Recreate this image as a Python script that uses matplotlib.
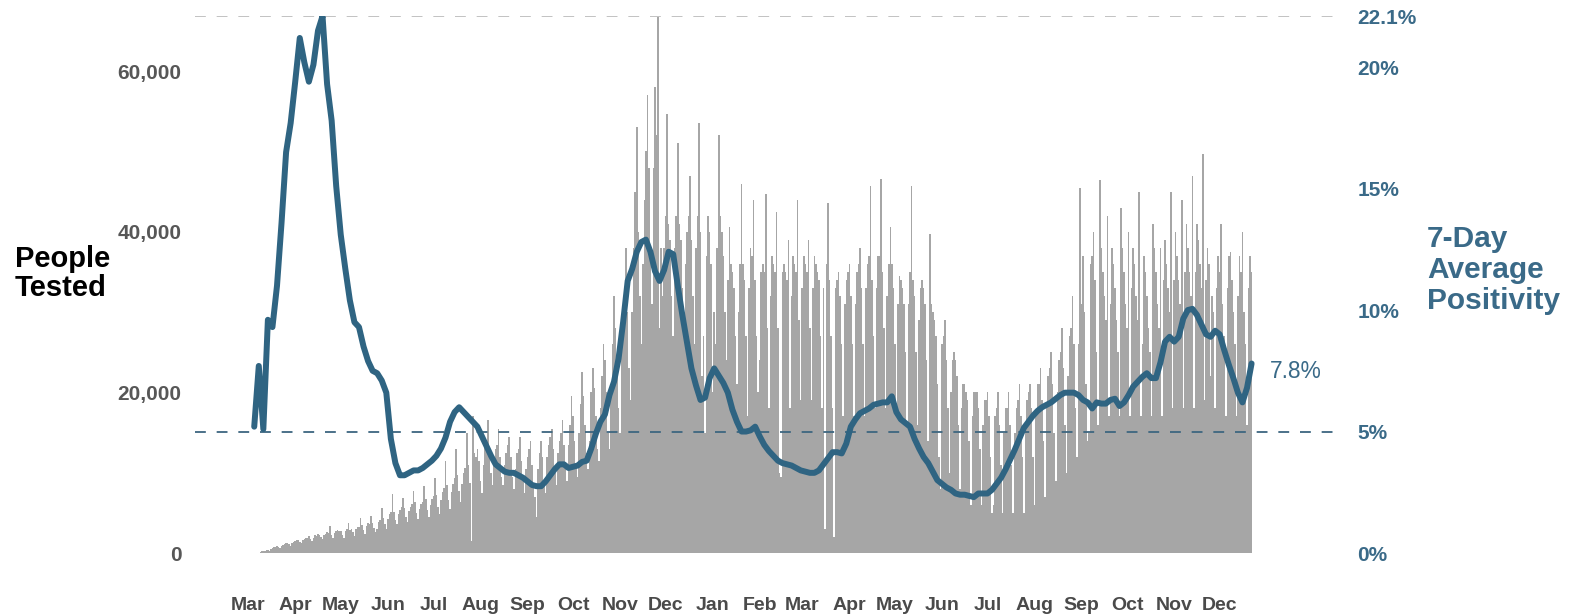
import pandas as pd
import matplotlib
matplotlib.use('Agg')
import matplotlib.pyplot as plt
import matplotlib.dates as mdates
from matplotlib.ticker import FuncFormatter

plt.rcParams['font.family'] = ['Liberation Sans', 'DejaVu Sans']

# --- data ---
# people tested per day, in thousands, one row per week (Mon..Sun), from 2020-03-09
tested_start = '2020-03-09'
tested_k = [
    0.1, 0.2, 0.3, 0.3, 0.4, 0.4, 0.3,
    0.5, 0.6, 0.7, 0.8, 0.9, 0.8, 0.6,
    0.9, 1.0, 1.1, 1.2, 1.3, 1.1, 0.9,
    1.3, 1.4, 1.5, 1.6, 1.6, 1.4, 1.2,
    1.6, 1.8, 1.9, 1.9, 2.1, 1.8, 1.5,
    1.9, 2.2, 2.1, 2.4, 2.3, 2.0, 1.7,
    2.2, 2.4, 2.6, 2.5, 3.4, 2.3, 1.9,
    2.5, 2.7, 2.9, 2.8, 2.7, 2.3, 1.9,
    2.7, 3.0, 3.7, 2.9, 3.0, 2.6, 2.1,
    3.0, 3.3, 3.3, 4.3, 3.5, 2.9, 2.4,
    3.4, 3.7, 3.6, 4.6, 3.7, 3.1, 2.6,
    3.0, 3.9, 4.1, 5.6, 4.3, 3.6, 3.0,
    4.2, 4.9, 5.1, 7.4, 5.1, 4.1, 3.6,
    4.8, 5.4, 5.7, 6.9, 5.6, 4.5, 3.9,
    5.2, 5.7, 6.1, 7.7, 6.4, 5.0, 4.2,
    5.5, 6.1, 6.4, 8.4, 6.7, 5.3, 4.5,
    6.0, 6.7, 7.1, 9.3, 7.2, 5.7, 4.8,
    6.6, 7.6, 8.1, 11.5, 8.5, 6.6, 5.5,
    7.6, 8.6, 9.3, 13.0, 9.7, 7.7, 6.3,
    8.6, 9.9, 10.6, 15.0, 11.0, 8.7, 1.5,
    17.0, 12.5, 12.0, 13.0, 11.5, 9.0, 7.5,
    11.0, 13.5, 14.0, 16.5, 12.5, 10.0, 8.5,
    11.5, 13.0, 13.5, 15.5, 12.0, 9.5, 8.5,
    11.0, 12.5, 13.5, 14.5, 12.0, 9.5, 8.0,
    10.5, 12.5, 13.0, 14.5, 11.5, 9.0, 7.5,
    10.5, 12.0, 13.0, 14.0, 11.0, 8.5, 7.0,
    4.5, 10.5, 12.5, 14.0, 12.0, 9.0, 7.5,
    12.0, 13.5, 14.5, 15.5, 13.0, 10.0, 8.5,
    12.5, 14.0, 15.0, 16.5, 13.5, 10.5, 9.0,
    13.5, 16.0, 19.5, 17.0, 14.0, 11.0, 9.5,
    15.0, 18.5, 22.5, 19.5, 16.0, 12.5, 10.5,
    14.0, 20.0, 23.0, 20.5, 17.0, 13.0, 11.5,
    18.0, 22.0, 26.0, 24.0, 20.0, 15.0, 13.0,
    21.0, 26.0, 32.0, 28.0, 24.0, 18.0, 15.0,
    25.0, 30.0, 33.0, 38.0, 30.0, 23.0, 19.0,
    30.0, 38.0, 45.0, 53.0, 40.0, 32.0, 26.0,
    36.0, 44.0, 50.0, 57.0, 48.0, 38.0, 31.0,
    48.0, 58.0, 52.0, 66.8, 28.0, 38.0, 32.0,
    38.0, 42.0, 54.6, 41.0, 39.0, 32.0, 27.0,
    38.0, 42.0, 51.0, 41.0, 39.0, 33.0, 27.0,
    36.0, 40.0, 42.0, 47.0, 39.0, 32.0, 26.0,
    38.0, 42.0, 53.6, 40.0, 22.0, 27.0, 15.0,
    37.0, 42.0, 40.0, 36.0, 20.0, 30.0, 26.0,
    38.0, 52.0, 42.0, 40.0, 37.0, 30.0, 24.0,
    34.0, 40.6, 36.0, 35.0, 33.0, 27.0, 21.0,
    30.0, 36.0, 46.0, 36.0, 34.0, 27.0, 17.0,
    33.0, 38.0, 37.0, 44.0, 34.0, 27.0, 20.0,
    24.0, 35.0, 36.0, 35.0, 44.7, 28.0, 18.0,
    32.0, 37.0, 36.0, 35.0, 42.5, 28.0, 10.0,
    9.5, 35.0, 36.0, 35.0, 34.0, 39.0, 18.0,
    32.0, 37.0, 36.0, 35.0, 44.0, 29.0, 19.0,
    33.0, 37.0, 36.0, 35.0, 39.0, 28.0, 19.0,
    33.0, 37.0, 36.0, 35.0, 34.0, 27.0, 18.0,
    33.0, 3.0, 36.0, 43.6, 34.0, 27.0, 18.0,
    2.0, 33.0, 34.0, 35.0, 32.0, 26.0, 17.0,
    31.0, 34.0, 35.0, 36.0, 32.0, 26.0, 17.0,
    31.0, 35.0, 36.0, 38.0, 33.0, 26.0, 17.0,
    33.0, 36.0, 37.0, 45.7, 34.0, 27.0, 18.0,
    33.0, 37.0, 37.0, 46.6, 35.0, 28.0, 18.0,
    32.0, 36.0, 40.6, 36.0, 33.0, 26.0, 17.0,
    31.0, 34.5, 34.0, 33.0, 31.0, 25.0, 16.0,
    31.0, 35.0, 45.7, 34.0, 32.0, 25.0, 16.0,
    29.0, 33.0, 34.0, 33.0, 31.0, 24.0, 14.0,
    39.7, 31.0, 30.0, 29.0, 27.0, 21.0, 12.0,
    8.0, 26.0, 27.0, 29.0, 24.0, 18.0, 10.0,
    20.0, 24.0, 25.0, 24.0, 22.0, 16.0, 8.0,
    18.0, 21.0, 21.0, 20.0, 19.0, 14.0, 6.0,
    17.0, 20.0, 20.0, 20.0, 18.0, 13.0, 6.0,
    16.0, 19.0, 19.0, 20.0, 17.0, 12.0, 5.0,
    6.0, 17.0, 18.0, 20.0, 16.0, 11.0, 5.0,
    15.0, 18.0, 18.0, 20.0, 16.0, 11.0, 5.0,
    15.0, 18.0, 19.0, 21.0, 17.0, 12.0, 5.0,
    16.0, 19.0, 20.0, 21.0, 18.0, 12.0, 6.0,
    17.0, 21.0, 21.0, 23.0, 19.0, 14.0, 7.0,
    18.0, 22.0, 23.0, 25.0, 21.0, 15.0, 9.0,
    20.0, 24.0, 25.0, 28.0, 23.0, 16.0, 10.0,
    22.0, 27.0, 28.0, 32.0, 26.0, 18.0, 12.0,
    26.0, 45.5, 31.0, 37.0, 30.0, 21.0, 14.0,
    15.0, 36.0, 37.0, 40.0, 34.0, 25.0, 16.0,
    46.5, 38.0, 35.0, 32.0, 29.0, 42.0, 17.0,
    31.0, 38.0, 36.0, 33.0, 29.0, 25.0, 17.0,
    43.0, 38.0, 35.0, 31.0, 28.0, 40.0, 17.0,
    33.0, 38.0, 36.0, 32.0, 29.0, 45.0, 17.0,
    26.0, 37.0, 35.0, 32.0, 28.0, 25.0, 17.0,
    41.0, 38.0, 35.0, 31.0, 28.0, 38.0, 17.0,
    34.0, 39.0, 36.0, 33.0, 30.0, 45.0, 18.0,
    34.0, 40.0, 37.0, 34.0, 31.0, 44.0, 18.0,
    35.0, 41.0, 38.0, 35.0, 32.0, 47.0, 18.0,
    35.0, 41.0, 39.0, 36.0, 33.0, 49.7, 19.0,
    34.0, 38.0, 36.0, 22.0, 32.0, 30.0, 18.0,
    33.0, 37.0, 35.0, 41.0, 31.0, 27.0, 17.0,
    33.0, 37.0, 37.5, 34.0, 30.0, 26.0, 17.0,
    32.0, 37.0, 35.0, 40.0, 30.0, 26.0, 16.0,
    33.0, 37.0, 35.0,
]

# 7-day average positivity (%), every 3 days from 2020-03-05
positivity_start = '2020-03-05'
positivity = [
    5.2, 7.7, 5.1, 9.6, 9.3, 11.0, 13.6, 16.5, 17.7, 19.4,
    21.2, 20.2, 19.4, 20.1, 21.5, 22.1, 19.3, 17.8, 15.1, 13.1,
    11.7, 10.4, 9.5, 9.3, 8.5, 7.9, 7.5, 7.4, 7.1, 6.6,
    4.7, 3.7, 3.2, 3.2, 3.3, 3.4, 3.4, 3.5, 3.65, 3.8,
    4.0, 4.3, 4.75, 5.4, 5.8, 6.0, 5.8, 5.6, 5.4, 5.2,
    4.8, 4.4, 4.0, 3.65, 3.5, 3.35, 3.3, 3.3, 3.2, 3.1,
    2.95, 2.8, 2.75, 2.75, 2.95, 3.2, 3.45, 3.65, 3.65, 3.5,
    3.55, 3.6, 3.75, 3.8, 4.3, 4.9, 5.4, 5.7, 6.5, 7.05,
    8.0, 9.5, 11.2, 11.7, 12.4, 12.8, 12.9, 12.4, 11.6, 11.2,
    11.65, 12.4, 12.3, 11.0, 9.8, 8.7, 7.6, 6.9, 6.3, 6.4,
    7.2, 7.6, 7.3, 7.0, 6.6, 5.9, 5.4, 5.0, 5.0, 5.05,
    5.2, 4.8, 4.45, 4.2, 4.0, 3.8, 3.7, 3.65, 3.6, 3.5,
    3.4, 3.35, 3.3, 3.3, 3.4, 3.65, 3.9, 4.15, 4.15, 4.1,
    4.5, 5.2, 5.5, 5.75, 5.85, 5.95, 6.1, 6.15, 6.2, 6.2,
    6.45, 5.8, 5.5, 5.35, 5.2, 4.7, 4.3, 3.95, 3.7, 3.35,
    3.0, 2.85, 2.7, 2.6, 2.45, 2.4, 2.4, 2.35, 2.3, 2.45,
    2.45, 2.45, 2.6, 2.85, 3.1, 3.45, 3.85, 4.25, 4.7, 5.15,
    5.4, 5.65, 5.85, 6.0, 6.1, 6.2, 6.35, 6.5, 6.6, 6.6,
    6.6, 6.5, 6.3, 6.2, 5.95, 6.2, 6.15, 6.15, 6.3, 6.35,
    6.05, 6.2, 6.5, 6.85, 7.05, 7.25, 7.4, 7.2, 7.2, 7.85,
    8.7, 8.9, 8.7, 8.9, 9.65, 10.0, 10.05, 9.8, 9.4, 9.0,
    8.9, 9.15, 9.0, 8.35, 7.75, 7.2, 6.6, 6.2, 6.8, 7.8,
]

month_labels = ['Mar', 'Apr', 'May', 'Jun', 'Jul', 'Aug', 'Sep', 'Oct', 'Nov', 'Dec', 'Jan',
                'Feb', 'Mar', 'Apr', 'May', 'Jun', 'Jul', 'Aug', 'Sep', 'Oct', 'Nov', 'Dec']
people_ticks = [0, 20000, 40000, 60000]
positivity_ticks = [0, 5, 10, 15, 20, 22.1]
threshold = 5

# --- colours ---
bar_color = '#a6a6a6'
line_color = '#2f6482'
blue_text = '#3a6a88'
grey_text = '#575757'

tested_dates = pd.date_range(tested_start, periods=len(tested_k), freq='D')
tested = [v * 1000 for v in tested_k]
pos_dates = pd.date_range(positivity_start, periods=len(positivity), freq='3D')
month_starts = pd.date_range('2020-03-01', periods=len(month_labels), freq='MS')

fig = plt.figure(figsize=(15.74, 6.15), dpi=100)
ax = fig.add_axes([0.124, 0.1008, 0.727, 0.873])
ax2 = ax.twinx()

ax.bar(tested_dates, tested, width=1.0, color=bar_color, linewidth=0, align='center')

ax2.axhline(max(positivity), color='#bdbdbd', linestyle=(0, (6, 6)), linewidth=1.3, zorder=1)
ax2.axhline(threshold, color='#3d6680', linestyle=(0, (6, 6)), linewidth=1.3, zorder=1)
ax2.plot(pos_dates, positivity, color=line_color, linewidth=4.3,
         solid_joinstyle='round', solid_capstyle='round', zorder=3)
ax2.annotate(f'{positivity[-1]}%', (pos_dates[-1], positivity[-1]),
             xytext=(13, -6), textcoords='offset points', va='center', ha='left',
             fontsize=16.4, color=blue_text)

x0 = pd.Timestamp('2020-03-01')
ax.set_xlim(mdates.date2num(x0 - pd.Timedelta(days=34.9)),
            mdates.date2num(x0 + pd.Timedelta(days=718.9)))
ax.set_ylim(0, 66850)
ax2.set_ylim(0, max(positivity))

ax.set_xticks(month_starts)
ax.set_xticklabels(month_labels, fontsize=14, fontweight='bold', color='#4a4a4a')
ax.tick_params(axis='x', length=0, pad=32)

ax.set_yticks(people_ticks)
ax.yaxis.set_major_formatter(FuncFormatter(lambda v, p: f'{v:,.0f}'))
ax.tick_params(axis='y', length=0, pad=10, labelsize=15, labelcolor=grey_text)
for t in ax.get_yticklabels():
    t.set_fontweight('bold')

ax2.set_yticks(positivity_ticks)
ax2.yaxis.set_major_formatter(FuncFormatter(lambda v, p: f'{v:g}%'))
ax2.tick_params(axis='y', length=0, pad=13, labelsize=15, labelcolor=blue_text)
for t in ax2.get_yticklabels():
    t.set_fontweight('bold')

for a in (ax, ax2):
    for s in a.spines.values():
        s.set_visible(False)

fig.text(0.0095, 0.555, 'People\nTested', fontsize=21, fontweight='bold',
         color='black', ha='left', va='center', linespacing=1.02)
fig.text(0.9065, 0.561, '7-Day\nAverage\nPositivity', fontsize=21.5, fontweight='bold',
         color=blue_text, ha='left', va='center', linespacing=1.12)

fig.savefig('out.png', dpi=100)
